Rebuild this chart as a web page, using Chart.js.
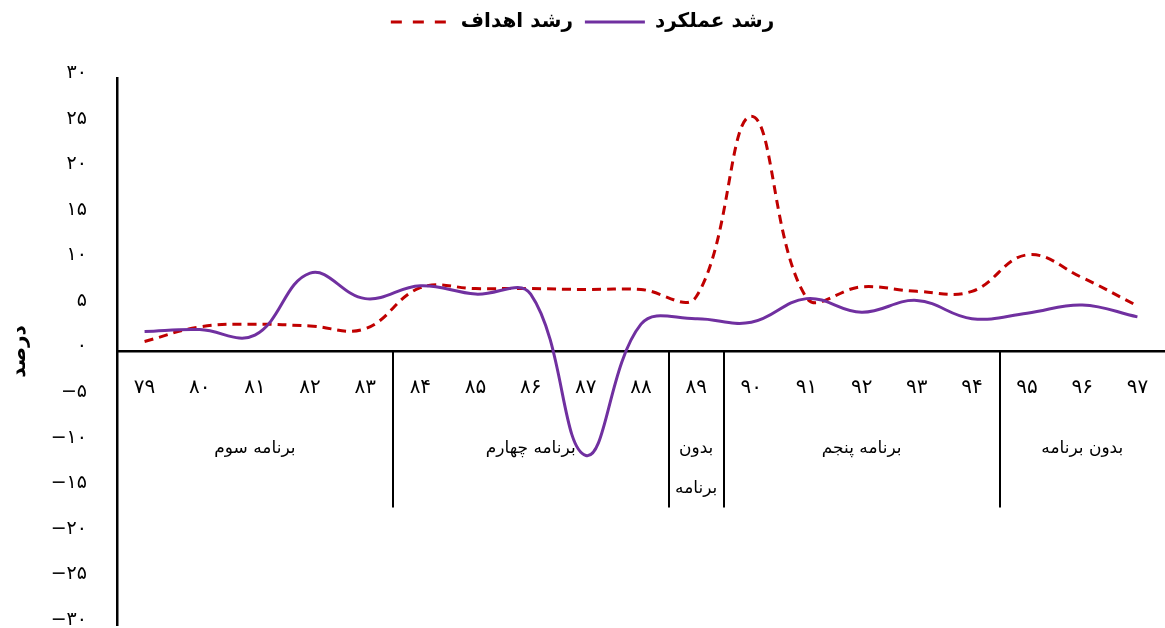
<!DOCTYPE html>
<html lang="fa">

<head>
   <meta charset="UTF-8">
   <title>رشد عملکرد و اهداف</title>
   <script src="https://cdn.jsdelivr.net/npm/chart.js"></script>
   <style>
      html, body { margin: 0; padding: 0; background: #fff; }
      .graph { width: 1165px; height: 628px; }
   </style>
</head>

<body>
   <div class="graph">
      <canvas id="myChart"></canvas>
   </div>
</body>
<script>
   // سال ها
   const years = ['۷۹', '۸۰', '۸۱', '۸۲', '۸۳', '۸۴', '۸۵', '۸۶', '۸۷', '۸۸', '۸۹', '۹۰', '۹۱', '۹۲', '۹۳', '۹۴', '۹۵', '۹۶', '۹۷'];
   const performance = [2.2, 2.4, 1.8, 8.6, 5.8, 7.2, 6.3, 6.3, -11.4, 3.0, 3.6, 3.2, 5.8, 4.3, 5.6, 3.6, 4.2, 5.1, 3.8];
   const targets = [1.1, 2.7, 3.0, 2.8, 2.5, 7.0, 6.9, 6.9, 6.8, 6.8, 6.0, 25.8, 5.9, 7.1, 6.6, 6.6, 10.6, 8.1, 5.0];

   // برنامه ها
   const groupNames = [['برنامه سوم'], ['برنامه چهارم'], ['بدون', 'برنامه'], ['برنامه پنجم'], ['بدون برنامه']];
   const groupStart = [0, 5, 10, 11, 16];
   const groupEnd = [4, 9, 10, 15, 18];

   const yMin = -30, yMax = 30, yStep = 5;

   function fa(n) {
      return String(n).replace(/\d/g, d => '۰۱۲۳۴۵۶۷۸۹'[d]).replace('-', '−');
   }

   const fontFa = "'DejaVu Sans', sans-serif";

   // خطوط جدا کننده و نام برنامه ها زیر محور
   const groupsPlugin = {
      id: 'groups',
      beforeInit(chart) {
         // فاصله بیشتر زیر راهنما
         const fit = chart.legend.fit;
         chart.legend.fit = function () {
            fit.call(this);
            this.height += 36;
         };
      },
      afterDraw(chart) {
         const x = chart.scales.x, y = chart.scales.y;
         const ctx = chart.ctx;
         const y0 = y.getPixelForValue(0);
         const yEnd = y.getPixelForValue(-17.1);
         ctx.save();
         ctx.strokeStyle = '#000';
         ctx.lineWidth = 2;
         for (let g = 1; g < groupStart.length; g++) {
            const bx = Math.round((x.getPixelForValue(groupStart[g] - 1) + x.getPixelForValue(groupStart[g])) / 2);
            ctx.beginPath();
            ctx.moveTo(bx, y0);
            ctx.lineTo(bx, yEnd);
            ctx.stroke();
         }
         ctx.fillStyle = '#000';
         ctx.font = '17px ' + fontFa;
         ctx.textAlign = 'center';
         ctx.textBaseline = 'middle';
         for (let g = 0; g < groupNames.length; g++) {
            const left = g == 0 ? chart.chartArea.left : (x.getPixelForValue(groupStart[g] - 1) + x.getPixelForValue(groupStart[g])) / 2;
            const right = g == groupNames.length - 1 ? chart.chartArea.right : (x.getPixelForValue(groupEnd[g]) + x.getPixelForValue(groupEnd[g] + 1)) / 2;
            const cx = (left + right) / 2;
            groupNames[g].forEach((t, i) => {
               ctx.fillText(t, cx, y0 + 97 + i * 40);
            });
         }
         ctx.restore();
      }
   };

   const config = {
      type: 'line',
      data: {
         labels: years,
         datasets: [
            {
               label: 'رشد عملکرد',
               data: performance,
               borderColor: '#7030A0',
               backgroundColor: '#7030A0',
               borderWidth: 3,
               pointRadius: 0,
               tension: 0.4
            },
            {
               label: 'رشد اهداف',
               data: targets,
               borderColor: '#C00000',
               backgroundColor: '#C00000',
               borderWidth: 3,
               borderDash: [9, 6],
               pointRadius: 0,
               tension: 0.4
            }
         ]
      },
      options: {
         responsive: true,
         maintainAspectRatio: false,
         animation: false,
         layout: { padding: { left: 0, right: 0, top: 0, bottom: 3 } },
         plugins: {
            legend: {
               reverse: true,
               labels: {
                  usePointStyle: true,
                  pointStyle: 'line',
                  pointStyleWidth: 60,
                  color: '#000',
                  padding: 12,
                  font: { family: fontFa, size: 20, weight: 'bold' },
                  generateLabels(chart) {
                     const items = Chart.defaults.plugins.legend.labels.generateLabels(chart);
                     items.forEach(it => {
                        it.lineDash = chart.data.datasets[it.datasetIndex].borderDash ? [11, 11] : [];
                        it.lineWidth = 3;
                     });
                     return items;
                  }
               }
            },
            tooltip: { enabled: false }
         },
         scales: {
            x: {
               position: { y: 0 },
               offset: true,
               grid: { display: false, drawTicks: false },
               border: { display: true, color: '#000', width: 2.5 },
               ticks: {
                  color: '#000',
                  padding: 24,
                  maxRotation: 0,
                  autoSkip: false,
                  font: { family: fontFa, size: 20 }
               },
               afterFit: s => { s.height = 0; s.paddingLeft = 0; s.paddingRight = 0; }
            },
            y: {
               min: yMin,
               max: yMax,
               grid: { display: false, drawTicks: false },
               border: { display: true, color: '#000', width: 2.5 },
               ticks: {
                  stepSize: yStep,
                  color: '#000',
                  padding: 30,
                  labelOffset: -5,
                  font: { family: fontFa, size: 19 },
                  callback: v => fa(v)
               },
               title: {
                  display: true,
                  text: 'درصد',
                  color: '#000',
                  padding: { top: 8, bottom: 0 },
                  font: { family: fontFa, size: 20, weight: 'bold' }
               },
               afterFit: s => { s.width = 117; s.paddingTop = 0; s.paddingBottom = 0; }
            }
         }
      },
      plugins: [groupsPlugin]
   };

   new Chart(document.getElementById('myChart'), config);
</script>

</html>
